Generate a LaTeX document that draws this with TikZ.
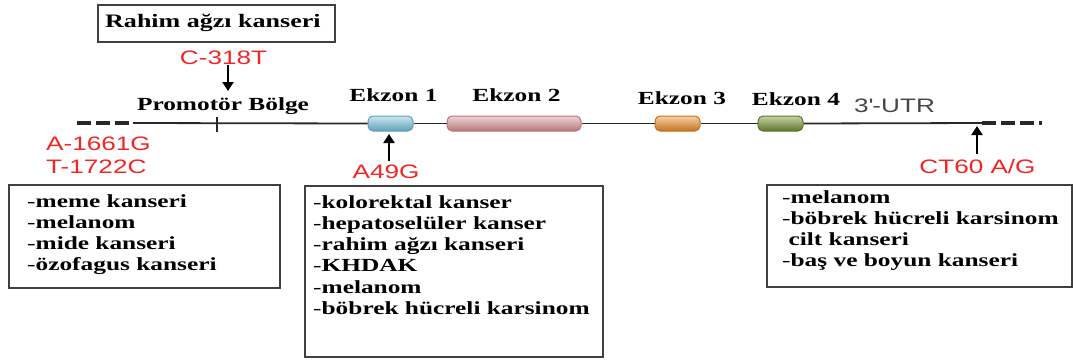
\documentclass[tikz,border=0pt]{standalone}
\usepackage{fontspec}
\setmainfont{Liberation Serif}
\newfontfamily\seriflabel{Liberation Serif}[FakeStretch=1.37]
\newfontfamily\sanslabel{Liberation Sans}[FakeStretch=1.34]
\usetikzlibrary{arrows.meta}

\definecolor{mutred}{RGB}{240,38,38}
\definecolor{framegray}{RGB}{64,64,64}
\definecolor{linegray}{RGB}{40,40,40}
\definecolor{utrgray}{RGB}{70,70,70}
\definecolor{exblue}{RGB}{140,200,220}
\definecolor{exblueD}{RGB}{95,160,185}
\definecolor{expink}{RGB}{222,160,160}
\definecolor{expinkD}{RGB}{180,120,120}
\definecolor{exorange}{RGB}{236,150,60}
\definecolor{exorangeD}{RGB}{196,115,30}
\definecolor{exgreen}{RGB}{128,156,64}
\definecolor{exgreenD}{RGB}{92,118,40}

% regular-weight dash in front of each list entry
\newcommand\dashitem{{\mdseries-}}

\tikzset{
  serif/.style={font=\seriflabel\bfseries\fontsize{18.5}{21.3}\selectfont, inner sep=0pt},
  mut/.style={font=\sanslabel\fontsize{19.5}{23}\selectfont, text=mutred, inner sep=1pt},
  frame/.style={draw=framegray, line width=1.9pt, inner sep=0pt},
  exon/.style 2 args={rounded corners=5pt, minimum height=15pt, inner sep=0pt,
    draw=#2, line width=1pt, top color=#1!45!white, middle color=#1, bottom color=#2},
  gene/.style={draw=linegray, line width=1.8pt},
  flank/.style={draw=linegray, line width=3.2pt, dash pattern=on 14pt off 5pt},
  ptr/.style={line width=2.2pt, -{Triangle[length=9pt,width=11pt]}},
}

\begin{document}
\begin{tikzpicture}[x=1pt,y=-1pt]
\path[use as bounding box] (0,0) rectangle (1074,360);

% gene backbone
\coordinate (dashL) at (77,123);
\coordinate (lineL) at (133,123);
\coordinate (lineR) at (982,123);
\coordinate (dashR) at (1042,123);
\coordinate (tickpt) at (217,123);

\node[exon={exblue}{exblueD}, minimum width=45pt] (exon1) at (390.5,123.5) {};
\node[exon={expink}{expinkD}, minimum width=134pt] (exon2) at (514,123.5) {};
\node[exon={exorange}{exorangeD}, minimum width=45pt] (exon3) at (677.5,123.5) {};
\node[exon={exgreen}{exgreenD}, minimum width=45pt] (exon4) at (780.5,123.5) {};

\draw[flank] (dashL) -- (lineL);
\draw[gene] (lineL) -- (exon1.west);
\draw[gene] (exon1.east) -- (exon2.west);
\draw[gene] (exon2.east) -- (exon3.west);
\draw[gene] (exon3.east) -- (exon4.west);
\draw[gene] (exon4.east) -- (lineR);
\draw[flank] (lineR) -- (dashR);
\draw[draw=linegray, line width=2.2pt] ([yshift=6pt]tickpt) -- ([yshift=-9pt]tickpt);

% region and exon labels
\node[serif, anchor=base] (promoter) at (223,110) {Promotör Bölge};
\node[serif, anchor=base] (ex1lbl) at (393.5,101) {Ekzon 1};
\node[serif, anchor=base] (ex2lbl) at (516.5,101) {Ekzon 2};
\node[serif, anchor=base] (ex3lbl) at (682,104) {Ekzon 3};
\node[serif, anchor=base] (ex4lbl) at (796,105) {Ekzon 4};
\node[font=\sanslabel\fontsize{19.5}{23}\selectfont, text=utrgray, inner sep=0pt,
      anchor=base west] (utr) at (854,112) {3\textquotesingle-UTR};

% polymorphisms
\node[frame, minimum width=237pt, minimum height=37pt] (rahimbox) at (216.5,23.5) {};
\node[serif, font=\seriflabel\bfseries\fontsize{19}{22}\selectfont, anchor=base west]
  (rahim) at (105,27) {Rahim ağzı kanseri};

\node[mut, anchor=base] (c318) at (223.5,64) {C-318T};
\coordinate (c318tip) at (228,91);
\draw[ptr] (c318.south -| c318tip) -- (c318tip);

\node[mut, anchor=base west] (a1661) at (45,150) {A-1661G};
\node[mut, anchor=base west] (t1722) at (45,173) {T-1722C};

\node[mut, anchor=base] (a49g) at (386,178) {A49G};
\coordinate (a49tip) at (389,134);
\draw[ptr] ([yshift=2pt]a49g.north -| a49tip) -- (a49tip);

\node[mut, anchor=base] (ct60) at (977.5,173) {CT60 A/G};
\coordinate (cttip) at (977,126);
\draw[ptr] ([yshift=4pt]ct60.north -| cttip) -- (cttip);

% associated cancers
\node[frame, minimum width=271pt, minimum height=103pt] (leftbox) at (144.5,236.5) {};
\node[serif, anchor=base west] (lefttxt) at (27,207) {\begin{tabular}[t]{@{}l@{}}
  \dashitem meme kanseri\\
  \dashitem melanom\\
  \dashitem mide kanseri\\
  \dashitem özofagus kanseri
\end{tabular}};

\node[frame, minimum width=298pt, minimum height=171pt] (midbox) at (454,271.5) {};
\node[serif, anchor=base west] (midtxt) at (313,208) {\begin{tabular}[t]{@{}l@{}}
  \dashitem kolorektal kanser\\
  \dashitem hepatoselüler kanser\\
  \dashitem rahim ağzı kanseri\\
  \dashitem KHDAK\\
  \dashitem melanom\\
  \dashitem böbrek hücreli karsinom
\end{tabular}};

\node[frame, minimum width=305pt, minimum height=102pt] (rightbox) at (919.5,236) {};
\node[serif, anchor=base west] (righttxt) at (782,203) {\begin{tabular}[t]{@{}l@{}}
  \dashitem melanom\\
  \dashitem böbrek hücreli karsinom\\
  ~cilt kanseri\\
  \dashitem baş ve boyun kanseri
\end{tabular}};
\end{tikzpicture}
\end{document}
